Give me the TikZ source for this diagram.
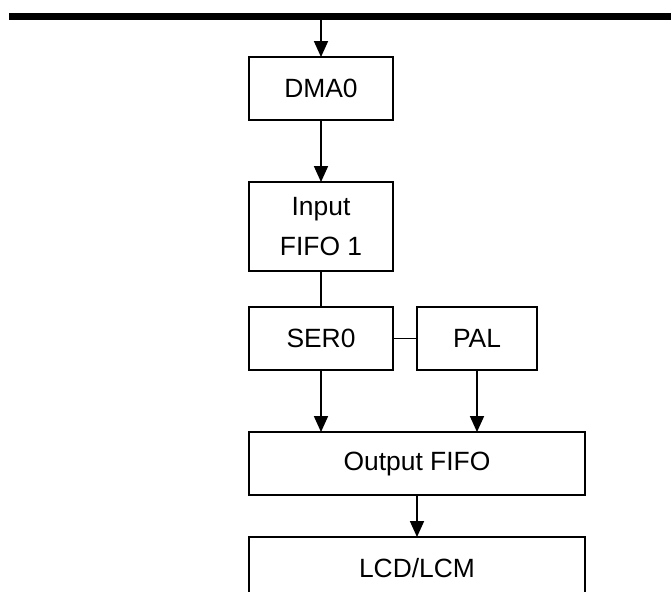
\documentclass[tikz,border=0pt]{standalone}
\usepackage{fontspec}
\setmainfont{Liberation Sans}
\usetikzlibrary{positioning,arrows.meta}

\begin{document}
\begin{tikzpicture}[node distance=46.5pt, every node/.style={align=center}]
    % styles
    \tikzstyle{blk} = [rectangle, draw, line width=1.3pt, outer sep=0pt, minimum width=108pt, minimum height=47.25pt, font=\fontsize{19.8pt}{30pt}\selectfont]
    \tikzstyle{wide} = [minimum width=252pt]
    \tikzstyle{flow} = [-{Triangle[width=10.5pt, length=12pt]}, line width=1.3pt]
    \tikzstyle{link} = [line width=1.3pt]

    \useasboundingbox (0,0) rectangle (503.25pt,-444pt);

    % bus
    \coordinate (busL) at (6.75pt,-12.2pt);
    \coordinate (busR) at (503.25pt,-12.2pt);
    \draw[line width=5.6pt] (busL) -- (busR);

    % blocks
    \node[blk] (dma) at (240.75pt,-66.4pt) {DMA0};
    \node[blk, minimum height=66.75pt, below=46.5pt of dma] (infifo) {Input\\FIFO 1};
    \node[blk, below=27pt of infifo] (ser) {SER0};
    \node[blk, minimum width=90pt, right=18pt of ser] (pal) {PAL};
    \node[blk, wide, below=46.5pt of ser.south west, anchor=north west] (outfifo) {Output FIFO};
    \node[blk, wide, below=31.5pt of outfifo] (lcd) {LCD/LCM};

    % connections
    \draw[flow] (dma.north |- busL) -- (dma);
    \draw[flow] (dma) -- (infifo);
    \draw[link] (infifo) -- (ser);
    \draw[link] (ser) -- (pal);
    \draw[flow] (ser.south) -- (ser.south |- outfifo.north);
    \draw[flow] (pal.south) -- (pal.south |- outfifo.north);
    \draw[flow] (outfifo) -- (lcd);
\end{tikzpicture}
\end{document}
